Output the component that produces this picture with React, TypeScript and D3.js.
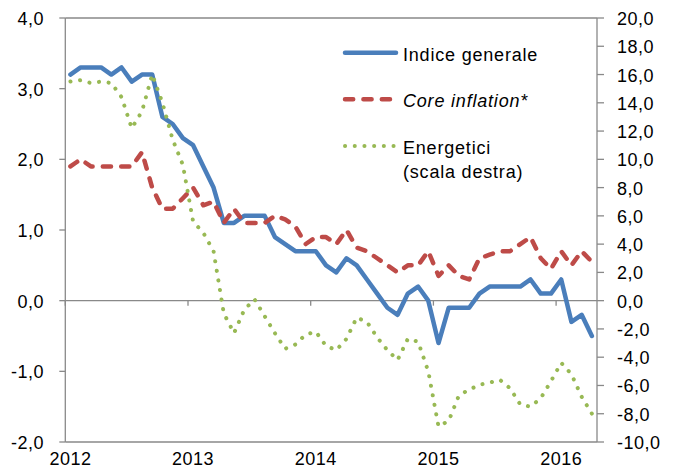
import React from 'react';
import * as d3 from 'd3';

// Monthly categories: Jan 2012 – Apr 2016
const months: Date[] = d3.timeMonth.range(new Date(2012, 0, 1), new Date(2016, 4, 1));
const yearLabels = ['2012', '2013', '2014', '2015', '2016'];

const indiceGenerale = [
  3.2, 3.3, 3.3, 3.3, 3.2, 3.3, 3.1, 3.2, 3.2, 2.6, 2.5, 2.3,
  2.2, 1.9, 1.6, 1.1, 1.1, 1.2, 1.2, 1.2, 0.9, 0.8, 0.7, 0.7,
  0.7, 0.5, 0.4, 0.6, 0.5, 0.3, 0.1, -0.1, -0.2, 0.1, 0.2, 0.0,
  -0.6, -0.1, -0.1, -0.1, 0.1, 0.2, 0.2, 0.2, 0.2, 0.3, 0.1, 0.1,
  0.3, -0.3, -0.2, -0.5,
];

const coreInflation = [
  1.9, 2.0, 1.9, 1.9, 1.9, 1.9, 1.9, 2.1, 1.6, 1.3, 1.3, 1.45,
  1.6, 1.35, 1.4, 1.1, 1.3, 1.1, 1.1, 1.1, 1.2, 1.15, 1.05, 0.8,
  0.9, 0.9, 0.8, 1.0, 0.75, 0.7, 0.6, 0.5, 0.4, 0.5, 0.5, 0.7,
  0.35, 0.5, 0.35, 0.3, 0.6, 0.65, 0.7, 0.7, 0.8, 0.9, 0.6, 0.45,
  0.7, 0.5, 0.7, 0.55,
];

const energetici = [
  15.5, 15.6, 15.4, 15.5, 15.4, 14.4, 12.2, 13.4, 16.0, 14.0, 11.4, 9.6,
  5.6, 4.8, 3.5, -0.9, -2.3, -0.65, 0.1, -1.1, -2.3, -3.4, -3.1, -2.4,
  -2.2, -3.2, -3.5, -2.7, -1.2, -1.5, -2.6, -3.5, -4.2, -2.7, -2.9, -5.0,
  -8.9, -8.5, -6.7, -6.3, -5.95, -5.8, -5.6, -6.2, -7.35, -7.5, -6.9, -5.7,
  -4.4, -5.2, -6.8, -8.0,
];

const leftTicks = [-2, -1, 0, 1, 2, 3, 4];
const rightTicks = [-10, -8, -6, -4, -2, 0, 2, 4, 6, 8, 10, 12, 14, 16, 18, 20];

const BLUE = '#4A7EBB';
const RED = '#BE4B48';
const GREEN = '#98B954';
const AXIS = '#898989';
const FONT = '"Liberation Sans", Arial, sans-serif';

const fmt = (v: number) => d3.format('.1f')(v).replace('.', ',').replace('\u2212', '-');

export default function App() {
  const W = 675, H = 470;
  const x0 = 65.3, x1 = 597, yTop = 18, yBot = 442;

  const idx = d3.range(months.length);
  const x = d3.scaleBand<number>().domain(idx).range([x0, x1]).padding(0);
  const cx = (i: number) => (x(i) as number) + x.bandwidth() / 2;
  const yL = d3.scaleLinear().domain([-2, 4]).range([yBot, yTop]);
  const yR = d3.scaleLinear().domain([-10, 20]).range([yBot, yTop]);

  const mkLine = (vals: number[], y: d3.ScaleLinear<number, number>) =>
    d3.line<number>().x((_, i) => cx(i)).y((d) => y(d))(vals) || '';

  const yearIdx = idx.filter((i) => months[i].getMonth() === 0);
  const y0 = yL(0);

  const textStyle: React.CSSProperties = { fontFamily: FONT, fontSize: 18, letterSpacing: 0.5, fill: '#000' };
  const legendStyle: React.CSSProperties = { fontFamily: FONT, fontSize: 18, letterSpacing: 0.8, fill: '#000' };

  return (
    <svg width={W} height={H} style={{ position: 'absolute', left: 0, top: 0, background: '#fff' }}>
      <rect x={0} y={0} width={W} height={H} fill="#fff" />
      {/* frame lines */}
      <line x1={x0} x2={x1} y1={yTop} y2={yTop} stroke={AXIS} strokeWidth={1.3} />
      <line x1={x0} x2={x1} y1={yBot} y2={yBot} stroke={AXIS} strokeWidth={1.3} />
      {/* left axis */}
      <line x1={x0} x2={x0} y1={yTop} y2={yBot} stroke={AXIS} strokeWidth={1.3} />
      {leftTicks.map((t) => (
        <g key={'l' + t}>
          <line x1={x0 - 6} x2={x0} y1={yL(t)} y2={yL(t)} stroke={AXIS} strokeWidth={1.3} />
          <text x={44} y={yL(t) + 7} textAnchor="end" style={textStyle}>{fmt(t)}</text>
        </g>
      ))}
      {/* right axis */}
      <line x1={x1} x2={x1} y1={yTop} y2={yBot} stroke={AXIS} strokeWidth={1.3} />
      {rightTicks.map((t) => (
        <g key={'r' + t}>
          <line x1={x1} x2={x1 + 7} y1={yR(t)} y2={yR(t)} stroke={AXIS} strokeWidth={1.3} />
          <text x={617} y={yR(t) + 7} textAnchor="start" style={textStyle}>{fmt(t)}</text>
        </g>
      ))}
      {/* category axis at zero */}
      <line x1={x0} x2={x1} y1={y0} y2={y0} stroke={AXIS} strokeWidth={1.3} />
      {yearIdx.map((i) => (
        <line key={'t' + i} x1={x(i) as number} x2={x(i) as number} y1={y0} y2={y0 + 5} stroke={AXIS} strokeWidth={1.3} />
      ))}
      {yearIdx.map((i, k) => (
        <text key={'yl' + i} x={cx(i)} y={465} textAnchor="middle" style={textStyle}>{yearLabels[k]}</text>
      ))}

      {/* series */}
      <path d={mkLine(indiceGenerale, yL)} fill="none" stroke={BLUE} strokeWidth={4.5} strokeLinejoin="round" strokeLinecap="round" />
      <path d={mkLine(coreInflation, yL)} fill="none" stroke={RED} strokeWidth={4.5} strokeDasharray="8.2 10.2" strokeLinecap="round" strokeLinejoin="round" />
      <path d={mkLine(energetici, yR)} fill="none" stroke={GREEN} strokeWidth={4} strokeDasharray="0.1 9.6" strokeLinecap="round" strokeLinejoin="round" />

      {/* legend */}
      <line x1={345} x2={396} y1={52.7} y2={52.7} stroke={BLUE} strokeWidth={4.5} strokeLinecap="round" />
      <text x={403} y={60.5} style={legendStyle}>Indice generale</text>
      <line x1={345} x2={396} y1={99.3} y2={99.3} stroke={RED} strokeWidth={4.5} strokeDasharray="8.2 10.2" strokeLinecap="round" />
      <text x={403} y={107} style={{ ...legendStyle, fontStyle: 'italic' }}>Core inflation*</text>
      <line x1={345} x2={396} y1={146} y2={146} stroke={GREEN} strokeWidth={4} strokeDasharray="0.1 9.6" strokeLinecap="round" />
      <text x={403} y={153.5} style={legendStyle}>Energetici</text>
      <text x={403} y={177.5} style={legendStyle}>(scala destra)</text>
    </svg>
  );
}
